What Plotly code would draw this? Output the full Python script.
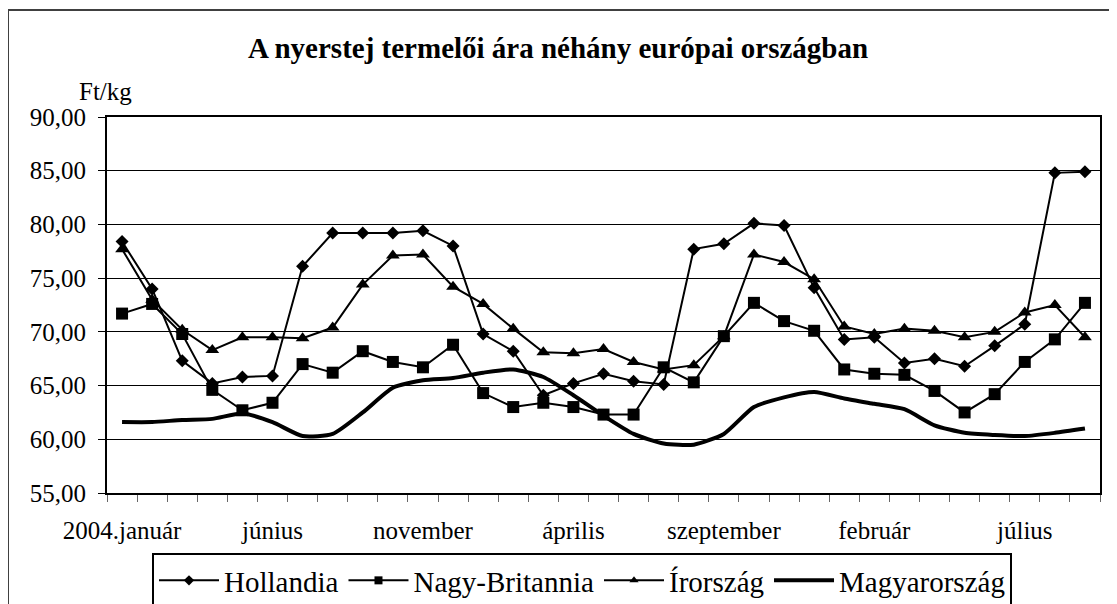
import plotly.graph_objects as go

# ---- data ----
months = ["január", "február", "március", "április", "május", "június",
          "július", "augusztus", "szeptember", "október", "november", "december"]
categories = [f"{2004 + i // 12}.{months[i % 12]}" for i in range(33)]
label_positions = [0, 5, 10, 15, 20, 25, 30]
tick_labels = ["2004.január", "június", "november", "április", "szeptember", "február", "július"]

hollandia = [78.4, 74.0, 67.3, 65.2, 65.8, 65.9, 76.1, 79.2, 79.2, 79.2, 79.4, 78.0,
             69.8, 68.2, 64.1, 65.2, 66.1, 65.4, 65.1, 77.7, 78.2, 80.1, 79.9, 74.1,
             69.3, 69.5, 67.1, 67.5, 66.8, 68.7, 70.7, 84.8, 84.9]
nagy_britannia = [71.7, 72.6, 69.8, 64.6, 62.7, 63.4, 67.0, 66.2, 68.2, 67.2, 66.7, 68.8,
                  64.3, 63.0, 63.4, 63.0, 62.3, 62.3, 66.7, 65.3, 69.6, 72.7, 71.0, 70.1,
                  66.5, 66.1, 66.0, 64.5, 62.5, 64.2, 67.2, 69.3, 72.7]
irorszag = [77.7, 73.0, 70.2, 68.3, 69.5, 69.5, 69.4, 70.4, 74.4, 77.1, 77.2, 74.2,
            72.6, 70.3, 68.1, 68.0, 68.4, 67.2, 66.5, 66.9, 69.6, 77.2, 76.5, 74.9,
            70.5, 69.8, 70.3, 70.1, 69.5, 70.0, 71.8, 72.5, 69.5]
magyarorszag = [61.6, 61.6, 61.8, 61.9, 62.4, 61.6, 60.3, 60.5, 62.5, 64.8, 65.5, 65.7,
                66.2, 66.5, 65.8, 64.1, 62.2, 60.5, 59.6, 59.5, 60.5, 63.0, 63.9, 64.4,
                63.8, 63.3, 62.8, 61.3, 60.6, 60.4, 60.3, 60.6, 61.0]
y_ticks = [55, 60, 65, 70, 75, 80, 85, 90]
y_tick_text = ["55,00", "60,00", "65,00", "70,00", "75,00", "80,00", "85,00", "90,00"]

series_names = ["Hollandia", "Nagy-Britannia", "Írország", "Magyarország"]
series_values = [hollandia, nagy_britannia, irorszag, magyarorszag]
series_symbols = ["diamond", "square", "triangle-up", None]
series_marker_sizes = [10, 12, 12, 0]
legend_marker_sizes = [8, 8, 8, 0]
series_widths = [2, 2, 2, 4]

x = list(range(len(categories)))
FONT = "Liberation Serif"

fig = go.Figure()
for name, vals, sym, ms, w in zip(series_names, series_values, series_symbols,
                                  series_marker_sizes, series_widths):
    if sym:
        fig.add_trace(go.Scatter(x=x, y=vals, name=name, mode="lines+markers",
                                 line=dict(color="black", width=w),
                                 marker=dict(symbol=sym, size=ms, color="black"),
                                 hovertext=categories, showlegend=False))
    else:
        fig.add_trace(go.Scatter(x=x, y=vals, name=name, mode="lines",
                                 line=dict(color="black", width=w, shape="spline", smoothing=0.6),
                                 hovertext=categories, showlegend=False))
# legend entries (smaller symbols, like the original)
for name, sym, ms, w in zip(series_names, series_symbols, legend_marker_sizes, series_widths):
    if sym:
        fig.add_trace(go.Scatter(x=[None], y=[None], name=name, mode="lines+markers",
                                 line=dict(color="black", width=w),
                                 marker=dict(symbol=sym, size=ms, color="black")))
    else:
        fig.add_trace(go.Scatter(x=[None], y=[None], name=name, mode="lines",
                                 line=dict(color="black", width=w)))

# page has an 8px body margin: figure coords = page coords - 8
OFF = 8
W, H = 1117 - OFF, 604 - OFF
L, R, T, B = 107 - OFF, 17, 117 - OFF, 111
pw, ph = W - L - R, H - T - B

def px_x(p):
    return (p - OFF - L) / pw

def px_y(p):
    return (H - B - (p - OFF)) / ph

fig.update_layout(
    width=W, height=H,
    margin=dict(l=L, r=R, t=T, b=B, pad=0, autoexpand=False),
    paper_bgcolor="white", plot_bgcolor="white",
    font=dict(family=FONT, size=25, color="black"),
    showlegend=True,
    legend=dict(orientation="h", x=px_x(152), y=px_y(553), xanchor="left", yanchor="top",
                bordercolor="black", borderwidth=2, bgcolor="white",
                font=dict(family=FONT, size=29, color="black"),
                itemwidth=60, tracegroupgap=0),
    xaxis=dict(range=[-0.5, len(categories) - 0.5], tickmode="array",
               tickvals=label_positions, ticktext=tick_labels, ticks="",
               showgrid=False, zeroline=False,
               showline=True, linecolor="black", linewidth=2, mirror=True,
               ticklabelstandoff=14,
               tickfont=dict(family=FONT, size=25, color="black"),
               minor=dict(tickmode="array",
                          tickvals=[i - 0.5 for i in range(len(categories) + 1)],
                          ticks="outside", ticklen=7, tickcolor="#666666", tickwidth=1,
                          showgrid=False)),
    yaxis=dict(range=[55, 90], tickmode="array", tickvals=y_ticks, ticktext=y_tick_text,
               ticks="outside", ticklen=7, tickcolor="black", tickwidth=1,
               showgrid=True, gridcolor="black", gridwidth=1, zeroline=False,
               showline=True, linecolor="black", linewidth=2, mirror=True,
               ticklabelstandoff=7,
               tickfont=dict(family=FONT, size=25, color="black")),
    title=dict(text="<b>A nyerstej termelői ára néhány európai országban</b>",
               x=px_x(558), xref="paper", xanchor="center",
               y=1 - (48 - OFF) / H, yref="container", yanchor="middle",
               font=dict(family=FONT, size=29, color="black")),
    annotations=[dict(text="Ft/kg", xref="paper", yref="paper",
                      x=px_x(105), y=px_y(91), xanchor="center", yanchor="middle",
                      showarrow=False, font=dict(family=FONT, size=25, color="black"))],
    shapes=[dict(type="rect", xref="paper", yref="paper",
                 x0=px_x(8), y0=px_y(640), x1=px_x(1140), y1=px_y(10),
                 line=dict(color="#404040", width=2), layer="below")],
)

fig.write_html("out.html")
